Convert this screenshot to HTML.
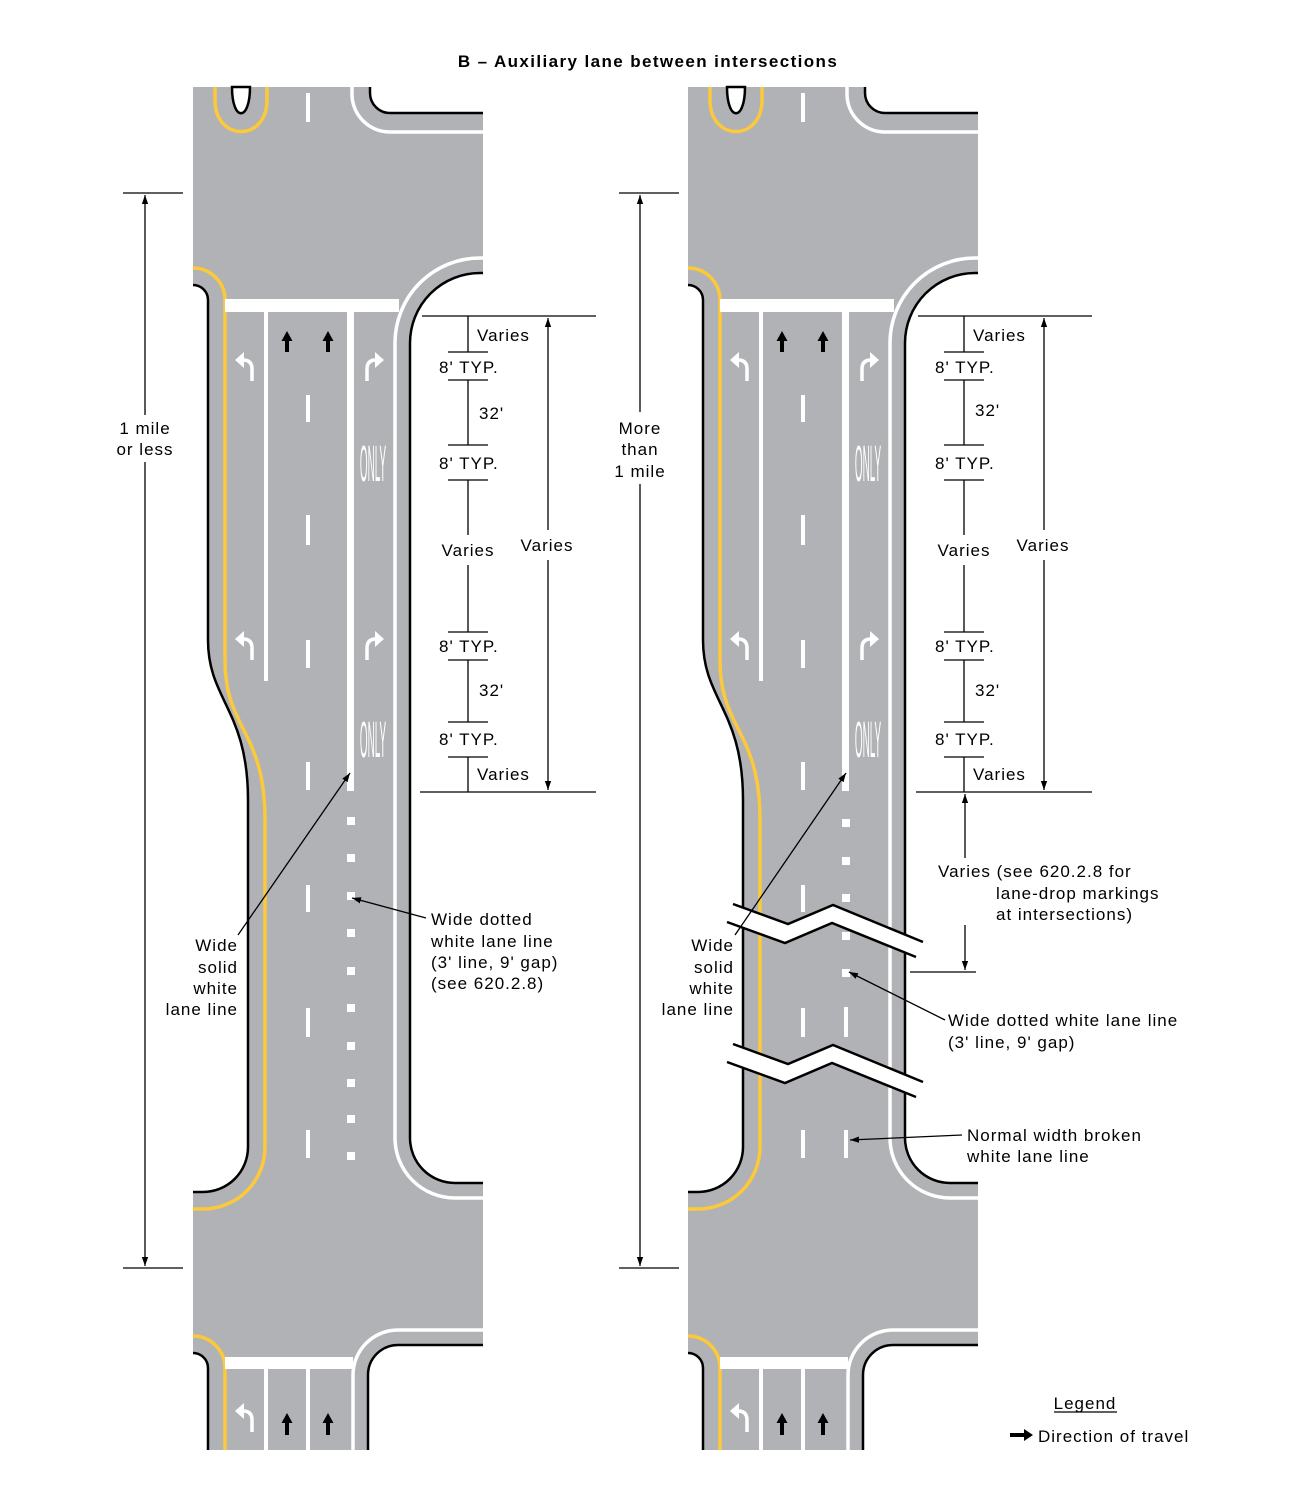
<!DOCTYPE html>
<html><head><meta charset="utf-8"><style>
html,body{margin:0;padding:0;background:#fff;}
svg{display:block;}
text{font-family:"Liberation Sans",Arial,sans-serif;font-size:17px;fill:#000;letter-spacing:1px;}
</style></head><body>
<svg width="1304" height="1500" viewBox="0 0 1304 1500" xmlns="http://www.w3.org/2000/svg">
<defs>
<marker id="ar" viewBox="0 0 10 10" refX="10" refY="5" markerWidth="9" markerHeight="9" orient="auto-start-reverse" markerUnits="userSpaceOnUse"><path d="M0,1.5 L10,5 L0,8.5 Z" fill="#000"/></marker>
<g id="road">
<path d="M193,87 H370 V93 A20,20 0 0 0 390,113 H483 V273 H480 A70,70 0 0 0 410,343 V1138 A45,45 0 0 0 455,1183 H483 V1345 H398 A30,30 0 0 0 368,1375 V1450 H208 V1368 A15,15 0 0 0 193,1353 V1192 H203 A45,45 0 0 0 248,1147 V800 C248,710 208,700 208,640 V300 A15,15 0 0 0 193,285 Z" fill="#b1b2b5"/>
<g fill="none" stroke="#000" stroke-width="2.5">
<path d="M370,87 V93 A20,20 0 0 0 390,113 H483"/>
<path d="M483,273 H480 A70,70 0 0 0 410,343 V1138 A45,45 0 0 0 455,1183 H483"/>
<path d="M483,1345 H398 A30,30 0 0 0 368,1375 V1450"/>
<path d="M208,1450 V1368 A15,15 0 0 0 193,1353"/>
<path d="M193,1192 H203 A45,45 0 0 0 248,1147 V800 C248,710 208,700 208,640 V300 A15,15 0 0 0 193,285"/>
</g>
<g fill="none" stroke="#fff" stroke-width="3.5">
<path d="M352,87 V94 A38,38 0 0 0 390,132 H483"/>
<path d="M483,258 H480 A85,85 0 0 0 395,343 V1138 A60,60 0 0 0 455,1198 H483"/>
<path d="M483,1330 H398 A45,45 0 0 0 353,1375 V1450"/>
</g>
<g fill="none" stroke="#fcc93a" stroke-width="3.5">
<path d="M215,87 V100 C215,142 267,142 267,100 V87"/>
<path d="M193,268 A32,32 0 0 1 225,300 V660 C225,730 265,730 265,820 V1147 A62,62 0 0 1 203,1209 H193"/>
<path d="M193,1336 A32,32 0 0 1 225,1368 V1450"/>
</g>
<path d="M232,87 C232,122 250,122 250,87 Z" fill="#fff" stroke="#000" stroke-width="2.5"/>
<rect x="225" y="299" width="174" height="13" fill="#fff"/>
<rect x="225" y="1357" width="128" height="12" fill="#fff"/>
<rect x="264" y="312" width="4" height="369" fill="#fff"/>
<rect x="347" y="312" width="7" height="479" fill="#fff"/>
<g fill="#fff">
<rect x="306" y="93" width="4" height="29"/>
<rect x="306" y="395" width="4" height="27"/>
<rect x="306" y="515" width="4" height="30"/>
<rect x="306" y="640" width="4" height="28"/>
<rect x="306" y="762" width="4" height="28"/>
<rect x="306" y="885" width="4" height="27"/>
<rect x="306" y="1008" width="4" height="29"/>
<rect x="306" y="1130" width="4" height="28"/>
<rect x="264" y="1369" width="4" height="81"/>
<rect x="306" y="1369" width="4" height="81"/>
</g>
<g fill="#000">
<path d="M287,331 L292.5,341 H289 V352 H285 V341 H281.5 Z"/>
<path d="M328,331 L333.5,341 H330 V352 H326 V341 H322.5 Z"/>
<path d="M287,1413 L292.5,1423 H289 V1435 H285 V1423 H281.5 Z"/>
<path d="M328,1413 L333.5,1423 H330 V1435 H326 V1423 H322.5 Z"/>
</g>
<g id="lt">
<path d="M252,381 V369 Q252,360 243,360" fill="none" stroke="#fff" stroke-width="3.5"/>
<path d="M235,360 L244,352 L244,368 Z" fill="#fff"/>
</g>
<use href="#lt" y="279"/>
<use href="#lt" y="1051"/>
<g id="rt">
<path d="M367,381 V369 Q367,360 376,360" fill="none" stroke="#fff" stroke-width="3.5"/>
<path d="M384,360 L375,352 L375,368 Z" fill="#fff"/>
</g>
<use href="#rt" y="279"/>
<text transform="translate(373,481) scale(0.45,2.3)" text-anchor="middle" style="fill:#fff;font-size:22px;letter-spacing:0">ONLY</text>
<text transform="translate(373,757) scale(0.45,2.3)" text-anchor="middle" style="fill:#fff;font-size:22px;letter-spacing:0">ONLY</text>
</g>
</defs>

<text x="648" y="67" text-anchor="middle" style="font-weight:bold;font-size:17px;letter-spacing:1.4px">B – Auxiliary lane between intersections</text>

<use href="#road"/>
<use href="#road" x="495"/>

<g fill="#fff">
<rect x="347" y="817" width="8" height="8"/><rect x="347" y="854" width="8" height="8"/>
<rect x="347" y="892" width="8" height="8"/><rect x="347" y="929" width="8" height="8"/>
<rect x="347" y="967" width="8" height="8"/><rect x="347" y="1004" width="8" height="8"/>
<rect x="347" y="1042" width="8" height="8"/><rect x="347" y="1079" width="8" height="8"/>
<rect x="347" y="1115" width="8" height="8"/><rect x="347" y="1152" width="8" height="8"/>
</g>
<g fill="#fff">
<rect x="842" y="819" width="8" height="8"/><rect x="842" y="857" width="8" height="8"/>
<rect x="842" y="894" width="8" height="8"/><rect x="842" y="932" width="8" height="8"/>
<rect x="842" y="969" width="8" height="8"/>
<rect x="844" y="1007" width="4" height="30"/>
<rect x="844" y="1130" width="4" height="28"/>
</g>
<g>
<path d="M733,904 L788,924 L833,905 L923,942 L916,957 L832,923 L785,943 L727,922 Z" fill="#fff"/>
<path d="M733,904 L788,924 L833,905 L923,942 M727,922 L785,943 L832,923 L916,957" fill="none" stroke="#000" stroke-width="2.5"/>
<path d="M733,1044 L788,1064 L833,1045 L923,1082 L916,1097 L832,1063 L785,1083 L727,1062 Z" fill="#fff"/>
<path d="M733,1044 L788,1064 L833,1045 L923,1082 M727,1062 L785,1083 L832,1063 L916,1097" fill="none" stroke="#000" stroke-width="2.5"/>
</g>

<g stroke="#000" stroke-width="1.3" fill="none">
<path d="M123,193 H183 M123,1268 H183"/>
<path d="M145,195 V415" marker-start="url(#ar)"/>
<path d="M145,462 V1266" marker-end="url(#ar)"/>
<path d="M619,193 H679 M619,1268 H679"/>
<path d="M640,195 V412" marker-start="url(#ar)"/>
<path d="M640,484 V1266" marker-end="url(#ar)"/>
</g>
<g id="ann" stroke="#000" stroke-width="1.3" fill="none">
<path d="M422,316 H596 M420,792 H596"/>
<path d="M468,316 V352 M468,380 V445 M468,480 V535 M468,565 V632 M468,660 V722 M468,757 V792"/>
<path d="M448,352 H488 M448,380 H488 M448,445 H488 M448,480 H488 M448,632 H488 M448,660 H488 M448,722 H488 M448,757 H488"/>
<path d="M548,318 V530" marker-start="url(#ar)"/>
<path d="M548,560 V790" marker-end="url(#ar)"/>
</g>
<use href="#ann" x="496"/>
<g stroke="#000" stroke-width="1.3" fill="none">
<path d="M965,794 V858" marker-start="url(#ar)"/>
<path d="M965,925 V970" marker-end="url(#ar)"/>
<path d="M910,972 H976"/>
<path d="M238,935 L350,773" marker-end="url(#ar)"/>
<path d="M426,918 L352,898" marker-end="url(#ar)"/>
<path d="M735,935 L846,773" marker-end="url(#ar)"/>
<path d="M945,1020 L849,972" marker-end="url(#ar)"/>
<path d="M962,1135 L850,1140" marker-end="url(#ar)"/>
<path d="M1054,1412 H1117"/>
</g>
<path d="M1010,1433 H1024 V1429 L1033,1435 L1024,1441 V1437 H1010 Z" fill="#000"/>

<g>
<text x="145" y="434" text-anchor="middle">1 mile</text>
<text x="145" y="455" text-anchor="middle">or less</text>
<text x="640" y="434" text-anchor="middle">More</text>
<text x="640" y="455" text-anchor="middle">than</text>
<text x="640" y="477" text-anchor="middle">1 mile</text>

<text x="477" y="341">Varies</text>
<text x="439" y="373">8' TYP.</text>
<text x="479" y="419">32'</text>
<text x="439" y="469">8' TYP.</text>
<text x="468" y="556" text-anchor="middle">Varies</text>
<text x="547" y="551" text-anchor="middle">Varies</text>
<text x="439" y="652">8' TYP.</text>
<text x="479" y="696">32'</text>
<text x="439" y="745">8' TYP.</text>
<text x="477" y="780">Varies</text>

<text x="973" y="341">Varies</text>
<text x="935" y="373">8' TYP.</text>
<text x="975" y="416">32'</text>
<text x="935" y="469">8' TYP.</text>
<text x="964" y="556" text-anchor="middle">Varies</text>
<text x="1043" y="551" text-anchor="middle">Varies</text>
<text x="935" y="652">8' TYP.</text>
<text x="975" y="696">32'</text>
<text x="935" y="745">8' TYP.</text>
<text x="973" y="780">Varies</text>

<text x="238" y="951" text-anchor="end">Wide</text>
<text x="238" y="973" text-anchor="end">solid</text>
<text x="238" y="994" text-anchor="end">white</text>
<text x="238" y="1015" text-anchor="end">lane line</text>
<text x="431" y="925">Wide dotted</text>
<text x="431" y="947">white lane line</text>
<text x="431" y="968">(3' line, 9' gap)</text>
<text x="431" y="989">(see 620.2.8)</text>

<text x="734" y="951" text-anchor="end">Wide</text>
<text x="734" y="973" text-anchor="end">solid</text>
<text x="734" y="994" text-anchor="end">white</text>
<text x="734" y="1015" text-anchor="end">lane line</text>
<text x="938" y="877">Varies (see 620.2.8 for</text>
<text x="996" y="899">lane-drop markings</text>
<text x="996" y="920">at intersections)</text>
<text x="948" y="1026">Wide dotted white lane line</text>
<text x="948" y="1048">(3' line, 9' gap)</text>
<text x="967" y="1141">Normal width broken</text>
<text x="967" y="1162">white lane line</text>
<text x="1085" y="1409" text-anchor="middle">Legend</text>
<text x="1038" y="1442">Direction of travel</text>
</g>
</svg>
</body></html>
